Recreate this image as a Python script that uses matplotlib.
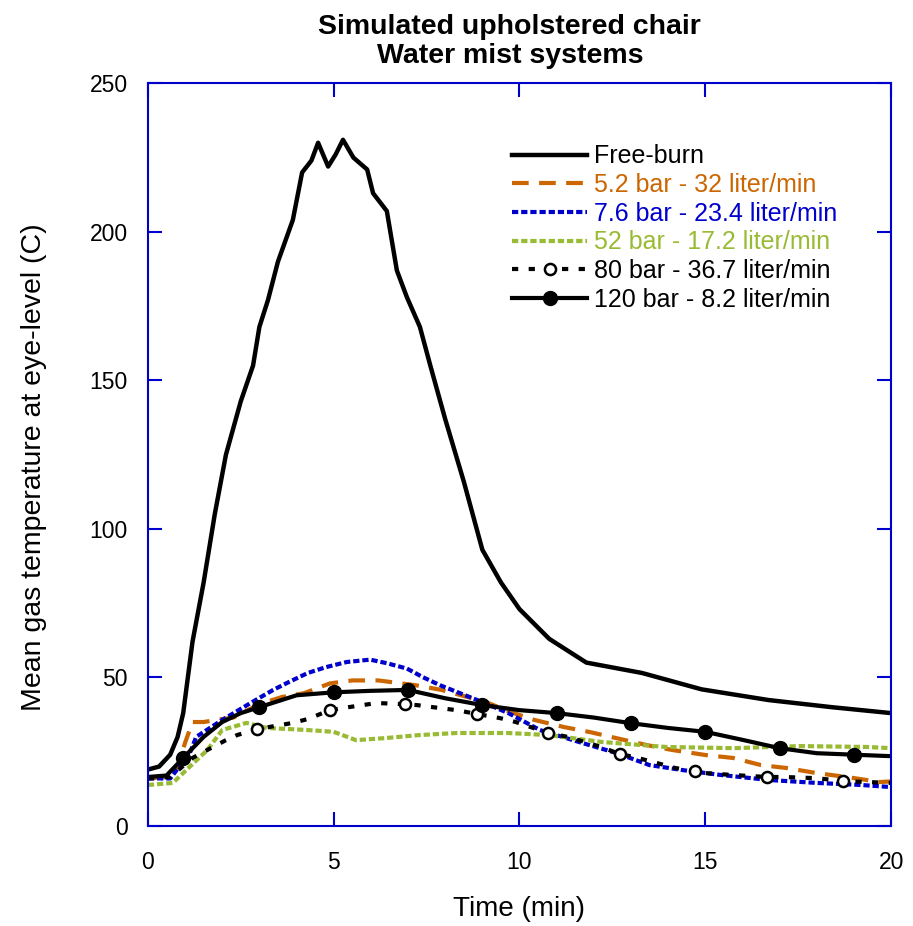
import numpy as np
import matplotlib
matplotlib.use("Agg")
import matplotlib.pyplot as plt

plt.rcParams["font.family"] = ["Liberation Sans", "DejaVu Sans"]

# Free-burn
t_free = [0, 0.3, 0.6, 0.8, 0.95, 1.2, 1.5, 1.8, 2.1, 2.5, 2.83, 3.0, 3.23, 3.5, 3.9,
          4.15, 4.4, 4.58, 4.85, 5.05, 5.25, 5.53, 5.9, 6.06, 6.43, 6.7, 6.97, 7.32,
          7.6, 8.0, 8.5, 9.0, 9.5, 10.0, 10.8, 11.8, 13.3, 14.9, 16.7, 18.4, 20]
v_free = [19, 20, 24, 30, 38, 62, 82, 105, 125, 143, 155, 168, 177, 190, 204,
          220, 224, 230, 222, 226, 231, 225, 221, 213, 207, 187, 178, 168,
          155, 137, 116, 93, 82, 73, 63, 55, 51.5, 46, 42.4, 40, 38]

# 5.2 bar - 32 liter/min
t_52b = [0, 0.5, 0.8, 1.0, 1.2, 1.5, 2.0, 2.3, 3.0, 3.6, 4.2, 4.9, 5.5, 6.2, 7.2, 7.9,
         9.1, 9.75, 10.4, 11.2, 11.9, 12.6, 13.4, 14.1, 15.0, 15.75, 16.5, 17.2, 18.0,
         18.8, 19.7, 20]
v_52b = [16, 16.5, 20, 28, 35, 35, 36, 36.5, 41, 43.4, 44.7, 48, 49, 49, 47.4, 45.8,
         41.7, 38.4, 35.7, 33.3, 31.6, 29.6, 27.3, 25.6, 23.9, 22.9, 20.5, 19.5, 17.8,
         16.5, 14.8, 15]

# 7.6 bar - 23.4 liter/min
t_76b = [0, 0.6, 1.13, 1.3, 2.0, 2.75, 3.37, 3.8, 4.3, 4.8, 5.35, 5.98, 6.43, 6.97,
         7.4, 7.86, 8.4, 9.0, 9.7, 10.55, 11.7, 12.6, 13.5, 14.4, 15.4, 16.7, 18.0,
         19.2, 20]
v_76b = [16, 16, 24.6, 30, 35.7, 41.3, 45.8, 48.5, 51.5, 53.5, 55.2, 56, 54.8, 53,
         50.1, 47.4, 44.7, 41.7, 38, 32.3, 27.9, 24.6, 20.5, 18.8, 17.2, 15.5, 14.5,
         13.8, 13.1]

# 52 bar - 17.2 liter/min
t_52 = [0, 0.67, 1.13, 1.6, 2.0, 2.65, 3.2, 4.3, 5.0, 5.6, 6.4, 7.3, 8.3, 9.7, 10.8,
        12.2, 13.95, 15.75, 17.55, 19.35, 20]
v_52 = [13.8, 14.5, 20, 25.6, 32.3, 34.7, 33, 32.3, 31.7, 28.9, 29.6, 30.6, 31.3,
        31.3, 30.6, 28.3, 26.6, 26.2, 26.9, 26.6, 26.2]

# 80 bar - 36.7 liter/min
t_80 = [0, 0.6, 1.2, 1.6, 2.1, 2.4, 2.93, 3.9, 4.3, 4.9, 5.4, 6.16, 6.92, 7.24, 7.86,
        8.3, 8.86, 9.48, 9.9, 10.77, 11.3, 12.2, 12.7, 13.1, 14.2, 14.72, 15.0, 15.7,
        16.65, 17.1, 18.0, 18.7, 19.35, 20]
v_80 = [16, 16.5, 22.9, 25.6, 28.9, 30.6, 32.6, 34.7, 36, 39, 40, 41.4, 41, 40.7, 39.7,
        39, 37.7, 36.3, 35, 31.3, 30, 26.6, 24.2, 23.2, 19.5, 18.5, 17.8, 17.2,
        16.5, 16.5, 16.1, 15.1, 14.8, 14.5]
m_80 = [2.93, 4.9, 6.92, 8.86, 10.77, 12.7, 14.72, 16.65, 18.7]

# 120 bar - 8.2 liter/min
t_120 = [0, 0.5, 0.95, 1.5, 2.0, 2.5, 3.0, 4.0, 5.0, 6.0, 7.0, 8.0, 9.0, 10.0, 11.0,
         12.0, 13.0, 14.0, 15.0, 16.0, 17.0, 18.0, 19.0, 20]
v_120 = [16.5, 17, 22.9, 30, 35, 38, 40, 44, 45, 45.5, 45.8, 43, 40.7, 39, 38,
         36.5, 34.6, 33, 31.7, 29, 26.2, 24.5, 24, 23.5]
m_120 = [0.95, 3.0, 5.0, 7.0, 9.0, 11.0, 13.0, 15.0, 17.0, 19.0]

blue = "#0000cc"
orange = "#cc6600"
green = "#99bb33"

fig = plt.figure(figsize=(9.13, 9.26), dpi=100)
ax = fig.add_axes([0.162, 0.108, 0.814, 0.802])

ax.plot(t_free, v_free, color="black", lw=3.2, label="Free-burn")
ax.plot(t_52b, v_52b, color=orange, lw=3, dashes=(4, 2.5), label="5.2 bar - 32 liter/min")
ax.plot(t_76b, v_76b, color=blue, lw=3, dashes=(1.5, 0.7), label="7.6 bar - 23.4 liter/min")
ax.plot(t_52, v_52, color=green, lw=3, dashes=(1.5, 0.7), label="52 bar - 17.2 liter/min")
ax.plot(t_80, v_80, color="black", lw=3, dashes=(1.5, 2.5), marker="o",
        markevery=[t_80.index(m) for m in m_80], markersize=8,
        markerfacecolor="white", markeredgecolor="black", markeredgewidth=1.8,
        label="80 bar - 36.7 liter/min")
ax.plot(t_120, v_120, color="black", lw=3, marker="o",
        markevery=[t_120.index(m) for m in m_120], markersize=10,
        markerfacecolor="black", label="120 bar - 8.2 liter/min")

ax.set_xlim(0, 20)
ax.set_ylim(0, 250)
ax.set_xticks([0, 5, 10, 15, 20])
ax.set_yticks([0, 50, 100, 150, 200, 250])
for s in ax.spines.values():
    s.set_color(blue)
    s.set_linewidth(1.5)
ax.tick_params(direction="in", length=10, width=1.5, color=blue, labelsize=16.5,
               top=True, right=True)
ax.tick_params(axis="x", pad=18)
ax.tick_params(axis="y", pad=14.5)

ax.set_xlabel("Time (min)", fontsize=20)
ax.set_ylabel("Mean gas temperature at eye-level (C)", fontsize=20.5)
ax.xaxis.set_label_coords(0.5, -0.094)
ax.yaxis.set_label_coords(-0.136, 0.483)
ax.set_title("Simulated upholstered chair\nWater mist systems", fontsize=20.5,
             fontweight="bold", pad=15, linespacing=1.12, x=0.487)

leg = ax.legend(loc="upper left", bbox_to_anchor=(0.46, 0.948), frameon=False,
                fontsize=18, handlelength=3.0, labelspacing=0.185, handletextpad=0.25)
for txt, line in zip(leg.get_texts(), leg.get_lines()):
    txt.set_color(line.get_color())

fig.savefig("out.png", dpi=100)
